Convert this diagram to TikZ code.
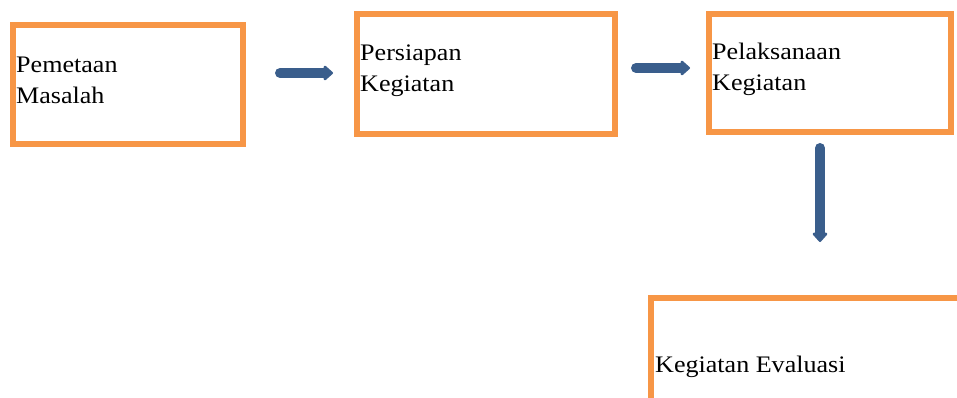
\documentclass[tikz,border=0pt]{standalone}
\usepackage{fontspec}
\setmainfont{Liberation Serif}[FakeStretch=1.1]
\usetikzlibrary{arrows.meta}
\definecolor{boxorange}{HTML}{F79646}
\definecolor{arrowblue}{HTML}{3A5E8C}
\tikzset{
  box/.style={draw=boxorange, line width=6pt, rectangle, inner sep=0pt, outer sep=0pt},
  lbl/.style={anchor=base west, inner sep=0pt, align=left, font=\fontsize{23.7pt}{31pt}\selectfont},
  arr/.style={draw=arrowblue, line width=10pt, line cap=round,
    -{Triangle[width=17pt,length=10pt,round]}}
}
\begin{document}
\begin{tikzpicture}[x=1pt,y=-1pt]
\useasboundingbox (0,0) rectangle (957,398);
\clip (0,0) rectangle (957,398);
\node[box, minimum width=230pt, minimum height=119.5pt] (b1) at (127.5,84.75) {};
\node[box, minimum width=258pt, minimum height=119.5pt] (b2) at (486,74.25) {};
\node[box, minimum width=242pt, minimum height=118.5pt] (b3) at (830,73.25) {};
\node[box, minimum width=324pt, minimum height=122pt] (b4) at (813,359) {};
\node[lbl] (t1) at (16,104) {Pemetaan\\Masalah};
\node[lbl] (t2) at (360,91.7) {Persiapan\\Kegiatan};
\node[lbl] (t3) at (712,90.7) {Pelaksanaan\\Kegiatan};
\node[lbl] (t4) at (655,372) {Kegiatan Evaluasi};
\draw[arr, shorten <=37.5pt, shorten >=24pt] (b1.east |- 0,73) -- (b2.west |- 0,73);
\draw[arr, shorten <=21pt, shorten >=19pt] (b2.east |- 0,68) -- (b3.west |- 0,68);
\draw[arr, shorten <=15.5pt, shorten >=56pt] (b3.south -| 820,0) -- (b4.north -| 820,0);
\end{tikzpicture}
\end{document}
